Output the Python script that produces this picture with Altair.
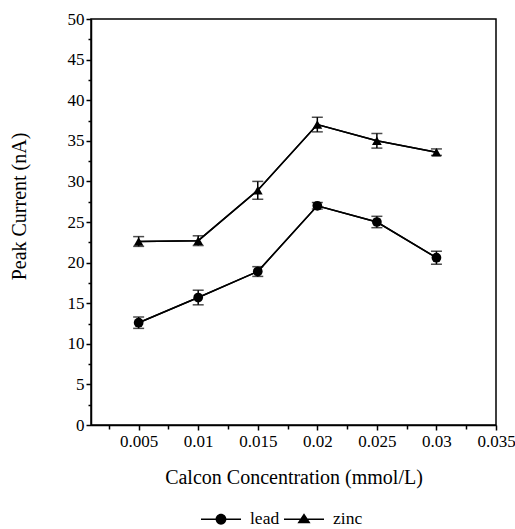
import altair as alt
import pandas as pd

conc = [0.005, 0.01, 0.015, 0.02, 0.025, 0.03]
lead = [12.6, 15.7, 18.9, 27.0, 25.0, 20.6]
lead_err = [0.7, 0.9, 0.6, 0.4, 0.7, 0.8]
zinc = [22.6, 22.7, 28.9, 37.0, 35.0, 33.6]
zinc_err = [0.6, 0.6, 1.1, 0.9, 0.9, 0.4]
series_names = ["lead", "zinc"]

x_major_ticks = [0.005, 0.01, 0.015, 0.02, 0.025, 0.03, 0.035]
x_minor_ticks = [0.0025, 0.0075, 0.0125, 0.0175, 0.0225, 0.0275, 0.0325]
y_major_ticks = [0, 5, 10, 15, 20, 25, 30, 35, 40, 45, 50]
y_minor_ticks = [2.5, 7.5, 12.5, 17.5, 22.5, 27.5, 32.5, 37.5, 42.5, 47.5]

rows = []
for name, vals, errs in [("lead", lead, lead_err), ("zinc", zinc, zinc_err)]:
    for c, v, e in zip(conc, vals, errs):
        rows.append({"conc": c, "current": v, "err": e, "series": name})
df = pd.DataFrame(rows)

FONT = "Liberation Serif"

x_scale = alt.Scale(domain=[0.001, 0.035], nice=False, zero=False)
y_scale = alt.Scale(domain=[0, 50], nice=False)

x_major = alt.X(
    "conc:Q",
    scale=x_scale,
    axis=alt.Axis(
        orient="bottom",
        title="Calcon Concentration (mmol/L)",
        values=x_major_ticks,
        format="~g",
        labelOverlap=False,
        labelFlush=False,
        tickSize=5,
        labelPadding=3,
        titlePadding=18,
        grid=False,
    ),
)
y_major = alt.Y(
    "current:Q",
    scale=y_scale,
    axis=alt.Axis(
        orient="left",
        title="Peak Current (nA)",
        values=y_major_ticks,
        labelOverlap=False,
        labelFlush=False,
        tickSize=5,
        labelPadding=2,
        titlePadding=38,
        titleY=187,
        grid=False,
    ),
)
x_minor = alt.X(
    "conc:Q",
    scale=x_scale,
    axis=alt.Axis(
        orient="bottom", title=None, values=x_minor_ticks, labels=False,
        domain=False, tickSize=4, grid=False,
    ),
)
y_minor = alt.Y(
    "current:Q",
    scale=y_scale,
    axis=alt.Axis(
        orient="left", title=None, values=y_minor_ticks, labels=False,
        domain=False, tickSize=3, grid=False,
    ),
)
x_plain = alt.X("conc:Q", scale=x_scale, axis=None)
y_plain = alt.Y("current:Q", scale=y_scale, axis=None)

base = alt.Chart(df)

minor_axes = base.mark_line(color="black", strokeWidth=1.5).encode(
    x=x_minor, y=y_minor, detail="series:N"
)
lines = base.mark_line(color="black", strokeWidth=1.5).encode(
    x=x_major, y=y_major, detail="series:N"
)

err = base.transform_calculate(
    lo="datum.current - datum.err", hi="datum.current + datum.err"
)
err_rule = err.mark_rule(color="black", strokeWidth=1.5).encode(
    x=x_plain, y=alt.Y("lo:Q", scale=y_scale, axis=None), y2="hi:Q"
)
cap_lo = err.mark_tick(color="black", thickness=1.5, size=11, orient="horizontal").encode(
    x=x_plain, y=alt.Y("lo:Q", scale=y_scale, axis=None)
)
cap_hi = err.mark_tick(color="black", thickness=1.5, size=11, orient="horizontal").encode(
    x=x_plain, y=alt.Y("hi:Q", scale=y_scale, axis=None)
)

points = base.mark_point(filled=True, color="black", opacity=1, size=95).encode(
    x=x_plain,
    y=y_plain,
    shape=alt.Shape(
        "series:N",
        scale=alt.Scale(domain=series_names, range=["circle", "triangle-up"]),
        legend=None,
    ),
)

# legend glyphs: line segment + marker, drawn as filled shapes in [-1, 1]
circle_path = ("M-1,-0.0375H-0.26V0.0375H-1Z"
               "M0.26,-0.0375H1V0.0375H0.26Z"
               "M-0.27,0A0.27,0.27,0,1,1,0.27,0A0.27,0.27,0,1,1,-0.27,0Z")
tri_path = ("M-1,-0.0375H1V0.0375H-1Z"
            "M-0.33,0.2L0,-0.3L0.33,0.2Z")

legend_layer = base.mark_point(filled=True, color="black", opacity=0, size=1).encode(
    x=x_plain,
    y=y_plain,
    shape=alt.Shape(
        "series:N",
        scale=alt.Scale(domain=series_names, range=[circle_path, tri_path]),
        legend=alt.Legend(
            title=None,
            orient="none",
            legendX=110,
            legendY=480,
            direction="horizontal",
            symbolSize=1600,
            symbolOpacity=1,
            symbolFillColor="black",
            symbolStrokeWidth=0,
            labelFont=FONT,
            labelFontSize=17.5,
            labelColor="black",
            labelOffset=9,
            columnPadding=4,
        ),
    ),
)

chart = (
    alt.layer(minor_axes, lines, err_rule, cap_lo, cap_hi, points, legend_layer)
    .resolve_scale(shape="independent")
    .resolve_axis(x="independent", y="independent")
    .properties(
        width=405,
        height=406,
        autosize=alt.AutoSizeParams(type="none"),
        padding={"left": 91, "top": 19, "right": 19, "bottom": 104},
        background="white",
    )
    .configure_view(stroke="black", strokeWidth=1.5)
    .configure_axis(
        domainColor="black",
        domainWidth=1.5,
        tickColor="black",
        tickWidth=1.5,
        labelFont=FONT,
        labelFontSize=17,
        labelColor="black",
        titleFont=FONT,
        titleFontSize=20,
        titleFontWeight="normal",
        titleColor="black",
    )
)

chart.save("out.html", embed_options={"renderer": "svg", "actions": False})
